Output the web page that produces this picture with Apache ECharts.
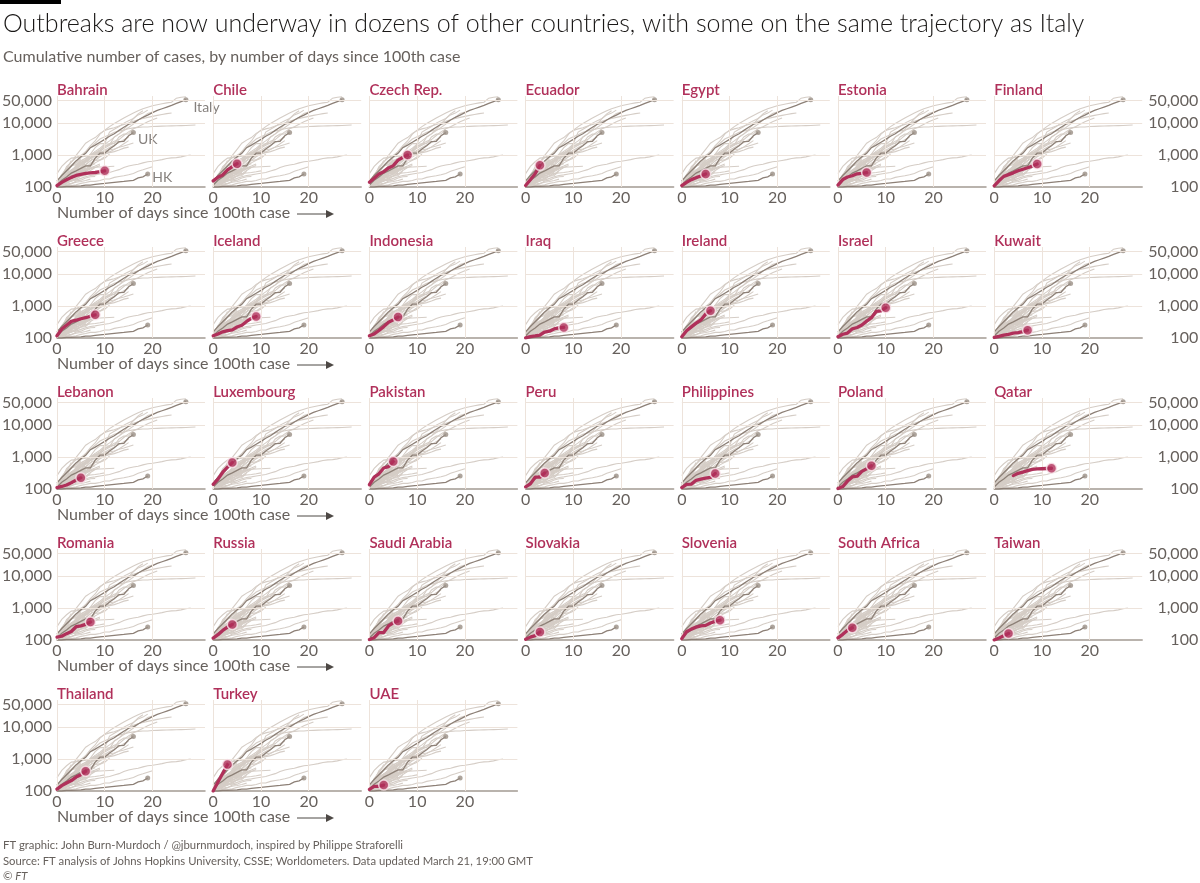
<!DOCTYPE html>
<html>
<head>
<meta charset="utf-8">
<script src="https://cdn.jsdelivr.net/npm/echarts@6/dist/echarts.min.js"></script>
<style>
html,body{margin:0;padding:0;background:#ffffff;}
#chart{width:1200px;height:883px;}
</style>
</head>
<body>
<div id="chart"></div>
<script>
// ---------- tick values ----------
const dayTicks = [0, 10, 20];
const caseTicks = [100, 1000, 10000, 50000];

// ---------- reference (dark) trajectories: cumulative cases by day since 100th case ----------
const italy = [155, 229, 322, 453, 655, 888, 1128, 1694, 2036, 2502, 3089, 3858, 4636, 5883, 7375, 9172, 10149, 12462, 15113, 17660, 21157, 24747, 27980, 31506, 35713, 41035, 47021, 53578];
const uk = [115, 163, 206, 273, 321, 382, 456, 459, 798, 1140, 1140, 1543, 1950, 2626, 2689, 3983, 5018];
const hk = [100, 100, 104, 105, 107, 108, 114, 115, 120, 126, 129, 134, 140, 145, 149, 155, 162, 192, 208, 256];

// ---------- other background (grey) trajectories ----------
const china = [121, 198, 291, 440, 571, 830, 1287, 1975, 2744, 4515, 5974, 7711, 9692, 11791, 14380, 17205, 20438, 24324, 28018, 31161, 34546, 37198, 40171, 42638, 44653, 59804, 63851, 66492];
const spain = [120, 165, 222, 259, 400, 500, 673, 1073, 1695, 2277, 2277, 5232, 6391, 7798, 9942, 11748, 13910, 17963, 20410, 25374];
const germany = [130, 159, 196, 262, 482, 670, 799, 1040, 1176, 1457, 1908, 2078, 3675, 4585, 5795, 7272, 9257, 12327, 15320, 19848, 22213];
const usa = [124, 158, 221, 319, 435, 541, 704, 994, 1301, 1630, 2183, 2770, 3613, 4596, 6344, 9197, 13779, 19367, 24192];
const iran = [139, 245, 388, 593, 978, 1501, 2336, 2922, 3513, 4747, 5823, 6566, 7161, 8042, 9000, 10075, 11364, 12729, 13938, 14991, 16169, 17361, 18407, 19644, 20610];
const france = [100, 130, 191, 204, 288, 380, 656, 959, 1136, 1219, 1794, 2293, 2293, 3681, 4496, 4532, 6683, 7715, 9124, 10970, 12758, 14463];
const southKorea = [104, 204, 433, 602, 833, 977, 1261, 1766, 2337, 3150, 3736, 4335, 5186, 5621, 6088, 6593, 7041, 7314, 7478, 7513, 7755, 7869, 7979, 8086, 8162, 8236, 8320, 8413, 8565, 8652];
const switzerland = [114, 214, 268, 337, 374, 491, 652, 652, 1139, 1359, 2200, 2200, 2700, 3028, 4075, 5294, 6575];
const netherlands = [128, 188, 265, 321, 382, 503, 503, 804, 959, 1135, 1413, 1705, 2051, 2460, 2994, 3631];
const austria = [104, 131, 182, 246, 302, 504, 655, 860, 1018, 1332, 1646, 2013, 2388, 2814];
const belgium = [109, 169, 200, 239, 267, 314, 314, 559, 689, 886, 1058, 1243, 1486, 1795, 2257, 2815];
const norway = [113, 147, 176, 205, 400, 598, 702, 996, 1090, 1221, 1333, 1463, 1550, 1746, 1914, 2118, 2385];
const sweden = [101, 161, 203, 248, 355, 500, 599, 814, 961, 1022, 1103, 1190, 1279, 1439, 1639, 1763];
const denmark = [262, 442, 615, 801, 827, 864, 914, 977, 1057, 1151, 1255, 1326];
const malaysia = [129, 149, 197, 238, 428, 566, 673, 790, 900, 1030];
const canada = [108, 138, 193, 198, 252, 415, 478, 657, 800, 943, 1277];
const portugal = [112, 169, 245, 331, 448, 642, 785, 1020, 1280];
const australia = [107, 128, 128, 200, 250, 297, 377, 452, 568, 681, 791, 1071];
const brazil = [151, 151, 162, 200, 321, 372, 621, 793, 1021];
const japan = [105, 132, 144, 156, 164, 186, 210, 230, 239, 254, 268, 284, 317, 349, 408, 455, 488, 514, 568, 619, 639, 675, 716, 780, 814, 829, 873, 950, 1007];
const singapore = [106, 108, 110, 112, 117, 130, 138, 150, 150, 160, 178, 178, 200, 212, 226, 243, 266, 313, 345, 385, 432];
const india = [107, 114, 137, 151, 173, 223, 283];

// ---------- highlighted countries ----------
const bahrain = [110, 140, 169, 200, 230, 250, 265, 275, 284, 300, 320];
const chile = [155, 201, 238, 342, 434, 537];
const czech = [141, 189, 253, 298, 396, 464, 694, 833, 995];
const ecuador = [111, 168, 260, 475];
const egypt = [110, 140, 170, 196, 220, 256];
const estonia = [115, 171, 205, 225, 258, 267, 283];
const finland = [109, 156, 215, 244, 277, 321, 359, 400, 450, 521];
const greece = [117, 190, 250, 331, 360, 400, 430, 480, 530];
const iceland = [117, 134, 156, 171, 180, 220, 250, 330, 409, 473];
const indonesia = [117, 134, 172, 227, 311, 369, 450];
const iraq = [101, 110, 116, 124, 154, 164, 192, 208, 214];
const ireland = [110, 169, 223, 292, 366, 557, 710];
const israel = [109, 131, 143, 193, 213, 255, 337, 433, 677, 705, 883];
const kuwait = [104, 112, 123, 130, 142, 148, 159, 176];
const lebanon = [110, 120, 133, 157, 190, 223];
const luxembourg = [140, 203, 335, 484, 670];
const pakistan = [136, 236, 299, 454, 501, 730];
const peru = [117, 145, 234, 234, 318];
const philippines = [111, 140, 142, 187, 202, 217, 230, 307];
const poland = [103, 119, 177, 238, 251, 355, 425, 536];
const qatar = [null, null, null, null, 262, 310, 337, 375, 413, 424, 430, 437, 445];
const romania = [123, 131, 158, 184, 260, 277, 308, 367];
const russia = [114, 147, 199, 253, 306];
const saudiArabia = [103, 118, 171, 171, 274, 344, 392];
const slovakia = [105, 123, 137, 178];
const slovenia = [110, 181, 219, 253, 275, 286, 341, 383, 414];
const southAfrica = [116, 150, 202, 240];
const taiwan = [100, 115, 135, 160];
const thailand = [114, 147, 177, 212, 272, 322, 411];
const turkey = [100, 191, 359, 670];
const uae = [113, 140, 140, 153];

const panelNames = ['Bahrain','Chile','Czech Rep.','Ecuador','Egypt','Estonia','Finland',
  'Greece','Iceland','Indonesia','Iraq','Ireland','Israel','Kuwait',
  'Lebanon','Luxembourg','Pakistan','Peru','Philippines','Poland','Qatar',
  'Romania','Russia','Saudi Arabia','Slovakia','Slovenia','South Africa','Taiwan',
  'Thailand','Turkey','UAE'];
const panelData = [bahrain, chile, czech, ecuador, egypt, estonia, finland,
  greece, iceland, indonesia, iraq, ireland, israel, kuwait,
  lebanon, luxembourg, pakistan, peru, philippines, poland, qatar,
  romania, russia, saudiArabia, slovakia, slovenia, southAfrica, taiwan,
  thailand, turkey, uae];
const referenceData = [italy, uk, hk];
const referenceNames = ['Italy', 'UK', 'HK'];
const backgroundData = [china, spain, germany, usa, iran, france, southKorea, switzerland,
  netherlands, austria, belgium, norway, sweden, denmark, malaysia, canada, portugal,
  australia, brazil, japan, singapore, india].concat(panelData);

// ---------- build ----------
const FONT = 'Lato, "Noto Sans", sans-serif';
const TXT = '#66605c';
const RED = '#b0305a';
const GRID = '#ede3db';
const fmt = v => v.toLocaleString('en-US');
const toPts = arr => arr.map((v, i) => v == null ? null : [i, v]).filter(Boolean);
const lastPt = arr => { const p = toPts(arr); return p[p.length - 1]; };

const COLS = 7, X0 = 57, DX = 156.2, Y0 = 96, DY = 151, PW = 148, PH = 91;
const refLabelOffsets = [[0, 8], [-3, 7], [-3, 4]];

const grids = [], xAxes = [], yAxes = [], series = [], graphics = [];

panelNames.forEach((name, i) => {
  const c = i % COLS, r = Math.floor(i / COLS);
  const left = X0 + DX * c, top = Y0 + DY * r;
  grids.push({ left: left, top: top, width: PW, height: PH });
  xAxes.push({
    gridIndex: i, type: 'value', min: 0, max: 31, interval: 10,
    axisLine: { show: true, onZero: false, lineStyle: { color: '#a39a92', width: 1.5 } },
    axisTick: { show: false }, splitLine: { show: false },
    axisLabel: { color: TXT, fontSize: 16, fontFamily: FONT, margin: 3,
      formatter: v => dayTicks.includes(v) ? String(v) : '' }
  });
  yAxes.push({ gridIndex: i, type: 'log', logBase: 10, min: 100, max: 70000, show: false });

  const showLab = c === 0 || c === COLS - 1;
  const labelSide = c === 0 ? 'start' : 'end';
  const mlData = caseTicks.map(v => ({
    yAxis: v,
    lineStyle: v === 100 ? { color: 'rgba(0,0,0,0)' } : undefined,
    label: {
      show: showLab, position: labelSide, distance: c === 0 ? 5 : 6,
      formatter: c === 0 ? fmt(v) : '{r|' + fmt(v) + '}',
      color: TXT, fontSize: 16, fontFamily: FONT,
      rich: { r: { width: 50, align: 'right', fontSize: 16, fontFamily: FONT, color: TXT } }
    }
  })).concat(dayTicks.map(v => ({ xAxis: v, label: { show: false } })));

  series.push({
    type: 'scatter', xAxisIndex: i, yAxisIndex: i, data: [[0, 100]], symbolSize: 0,
    silent: true, z: 1,
    markLine: {
      silent: true, symbol: ['none', 'none'], animation: false,
      lineStyle: { color: GRID, width: 1, type: 'solid', opacity: 1 },
      label: { color: TXT, fontSize: 16, fontFamily: FONT },
      emphasis: { disabled: true },
      data: mlData
    }
  });
  series.push({
    type: 'lines', coordinateSystem: 'cartesian2d', xAxisIndex: i, yAxisIndex: i,
    polyline: true, silent: true, z: 2,
    lineStyle: { color: '#d5cdc6', width: 1.1, opacity: 1 },
    data: backgroundData.map(a => ({ coords: toPts(a) }))
  });
  series.push({
    type: 'lines', coordinateSystem: 'cartesian2d', xAxisIndex: i, yAxisIndex: i,
    polyline: true, silent: true, z: 3,
    lineStyle: { color: '#8d8077', width: 1.3, opacity: 1 },
    data: referenceData.map(a => ({ coords: toPts(a) }))
  });
  series.push({
    type: 'scatter', xAxisIndex: i, yAxisIndex: i, silent: true, z: 4,
    symbolSize: 5, itemStyle: { color: '#9a8e84' },
    data: referenceData.map((a, k) => ({
      value: lastPt(a),
      label: i === 0 ? {
        show: true, formatter: referenceNames[k], position: 'right',
        offset: refLabelOffsets[k],
        color: TXT, fontSize: 14, fontFamily: FONT
      } : { show: false }
    }))
  });
  series.push({
    type: 'line', xAxisIndex: i, yAxisIndex: i, silent: true, z: 5,
    showSymbol: false, symbol: 'none', animation: false,
    lineStyle: { color: RED, width: 3.3, cap: 'round', join: 'round' },
    data: toPts(panelData[i])
  });
  series.push({
    type: 'scatter', xAxisIndex: i, yAxisIndex: i, silent: true, z: 6,
    symbolSize: 10, itemStyle: { color: RED, borderColor: '#fbe9ee', borderWidth: 1.5 },
    data: [lastPt(panelData[i])]
  });

  graphics.push({
    type: 'text', left: left, top: top - 13, silent: true,
    style: { text: name, fill: RED, font: '600 15px ' + FONT, textVerticalAlign: 'middle' }
  });
});

// row axis titles
for (let r = 0; r < 5; r++) {
  const y = 213 + DY * r;
  graphics.push({ type: 'text', x: X0, y: y, silent: true,
    style: { text: 'Number of days since 100th case', fill: TXT, font: '16px ' + FONT, textVerticalAlign: 'middle' } });
  graphics.push({ type: 'line', silent: true,
    shape: { x1: 297, y1: y + 1, x2: 328, y2: y + 1 }, style: { stroke: '#4d4845', lineWidth: 1 } });
  graphics.push({ type: 'polygon', silent: true,
    shape: { points: [[326, y - 3], [334, y + 1], [326, y + 5]] }, style: { fill: '#4d4845' } });
}

graphics.push(
  { type: 'rect', shape: { x: 0, y: 0, width: 61, height: 4 }, style: { fill: '#000' }, silent: true },
  { type: 'text', x: 3, y: 24, silent: true,
    style: { text: 'Outbreaks are now underway in dozens of other countries, with some on the same trajectory as Italy',
      fill: '#1a1817', font: '300 25px ' + FONT, textVerticalAlign: 'middle' } },
  { type: 'text', x: 3, y: 57, silent: true,
    style: { text: 'Cumulative number of cases, by number of days since 100th case',
      fill: TXT, font: '16px ' + FONT, textVerticalAlign: 'middle' } },
  { type: 'text', x: 3, y: 845, silent: true,
    style: { text: 'FT graphic: John Burn-Murdoch / @jburnmurdoch, inspired by Philippe Straforelli',
      fill: TXT, font: '11.3px ' + FONT, textVerticalAlign: 'middle' } },
  { type: 'text', x: 3, y: 861, silent: true,
    style: { text: 'Source: FT analysis of Johns Hopkins University, CSSE; Worldometers. Data updated March 21, 19:00 GMT',
      fill: TXT, font: '11.3px ' + FONT, textVerticalAlign: 'middle' } },
  { type: 'text', x: 3, y: 876, silent: true,
    style: { text: '© {i|FT}', fill: TXT, font: '11.3px ' + FONT, textVerticalAlign: 'middle',
      rich: { i: { fontStyle: 'italic', fontSize: 11.3, fontFamily: FONT, fill: TXT } } } }
);

const chart = echarts.init(document.getElementById('chart'), null, { renderer: 'canvas' });
chart.setOption({
  backgroundColor: '#ffffff',
  animation: false,
  grid: grids,
  xAxis: xAxes,
  yAxis: yAxes,
  series: series,
  graphic: graphics
});
</script>
</body>
</html>
